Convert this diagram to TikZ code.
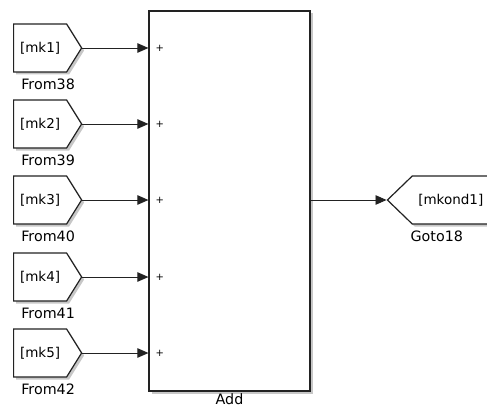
\documentclass[tikz,border=0pt]{standalone}
\usepackage{fontspec}
\setmainfont{DejaVu Sans}
\usetikzlibrary{arrows.meta,positioning,shapes.symbols,shadows}
\definecolor{slgray}{HTML}{222222}

\begin{document}
\begin{tikzpicture}[x=1pt,y=-1pt,
      font=\fontsize{13.5}{16}\selectfont,
      blk/.style={draw=slgray,line width=1.2pt,fill=white,
        drop shadow={shadow xshift=2.5pt,shadow yshift=-2.5pt,fill=black,opacity=0.22}},
      frm/.style={blk,signal,signal to=east,signal pointer angle=116,anchor=west,
        minimum width=68pt,minimum height=48pt,inner sep=2pt},
      gto/.style={blk,signal,signal to=west,signal pointer angle=88,anchor=east,
        minimum width=102pt,minimum height=48pt,inner sep=2pt},
      sum/.style={blk,rectangle,minimum width=161pt,minimum height=380pt},
      lbl/.style={inner sep=1pt,font=\fontsize{14.3}{16}\selectfont},
      pls/.style={font=\fontsize{10}{12}\selectfont,inner sep=0pt},
      arr/.style={-{Triangle[length=11pt,width=9.5pt]},line width=0.9pt,draw=slgray}]
    \useasboundingbox (0,0) rectangle (487,409);
    % summing block
    \node[sum] (add) at (229.5,201) {};
    \node[lbl,below=1pt of add] (addl) {Add};
    % from blocks
    \node[frm] (from1) at (13,48) {[mk1]};
    \node[frm] (from2) at (13,124) {[mk2]};
    \node[frm] (from3) at (13,200) {[mk3]};
    \node[frm] (from4) at (13,277) {[mk4]};
    \node[frm] (from5) at (13,353) {[mk5]};
    \node[lbl,below=5pt of from1,xshift=8pt] (from1l) {From38};
    \node[lbl,below=5pt of from2,xshift=8pt] (from2l) {From39};
    \node[lbl,below=5pt of from3,xshift=8pt] (from3l) {From40};
    \node[lbl,below=5pt of from4,xshift=8pt] (from4l) {From41};
    \node[lbl,below=5pt of from5,xshift=8pt] (from5l) {From42};
    % goto block
    \node[gto] (goto) at (490,200) {[mkond1]};
    \node[lbl,below=5pt of goto,xshift=-14pt] (gotol) {Goto18};
    % input signs
    \node[pls,right=7pt of from1.east -| add.west] (p1) {+};
    \node[pls,right=7pt of from2.east -| add.west] (p2) {+};
    \node[pls,right=7pt of from3.east -| add.west] (p3) {+};
    \node[pls,right=7pt of from4.east -| add.west] (p4) {+};
    \node[pls,right=7pt of from5.east -| add.west] (p5) {+};
    % signals
    \draw[arr] (from1.east) -- (from1.east -| add.west);
    \draw[arr] (from2.east) -- (from2.east -| add.west);
    \draw[arr] (from3.east) -- (from3.east -| add.west);
    \draw[arr] (from4.east) -- (from4.east -| add.west);
    \draw[arr] (from5.east) -- (from5.east -| add.west);
    \draw[arr] (goto.west -| add.east) -- (goto.west);
\end{tikzpicture}
\end{document}
